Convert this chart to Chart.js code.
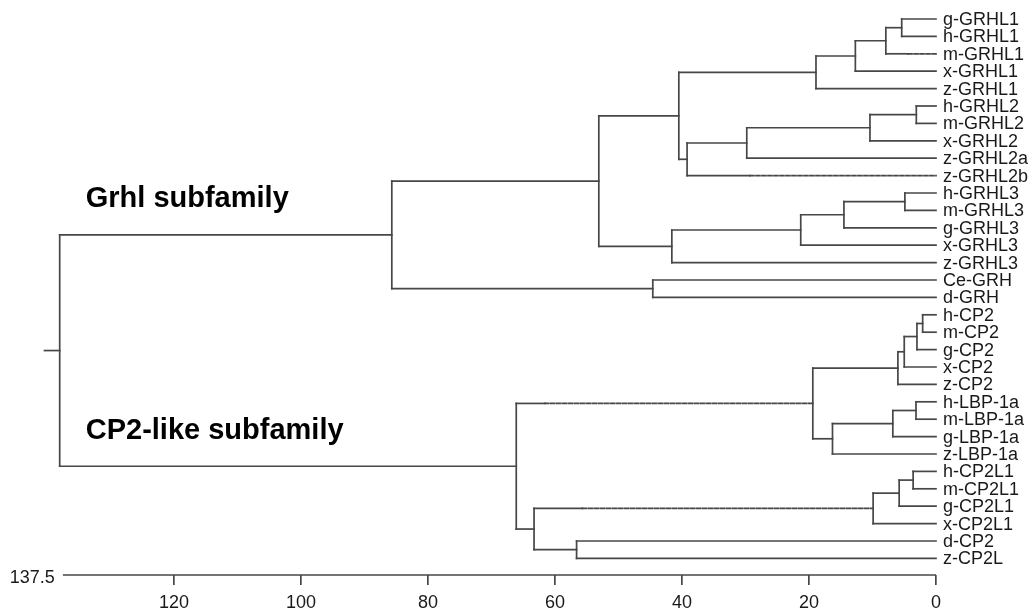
<!DOCTYPE html>
<html>
<head>
<meta charset="utf-8">
<script src="https://cdn.jsdelivr.net/npm/chart.js@4/dist/chart.umd.min.js"></script>
<style>
  body { margin: 0; background: #fff; }
  #wrap { width: 1031px; height: 616px; }
</style>
</head>
<body>
<div id="wrap"><canvas id="tree"></canvas></div>
<script>
// leaves, top to bottom
const leaves = [
  'g-GRHL1', 'h-GRHL1', 'm-GRHL1', 'x-GRHL1', 'z-GRHL1',
  'h-GRHL2', 'm-GRHL2', 'x-GRHL2', 'z-GRHL2a', 'z-GRHL2b',
  'h-GRHL3', 'm-GRHL3', 'g-GRHL3', 'x-GRHL3', 'z-GRHL3',
  'Ce-GRH', 'd-GRH',
  'h-CP2', 'm-CP2', 'g-CP2', 'x-CP2', 'z-CP2',
  'h-LBP-1a', 'm-LBP-1a', 'g-LBP-1a', 'z-LBP-1a',
  'h-CP2L1', 'm-CP2L1', 'g-CP2L1', 'x-CP2L1',
  'd-CP2', 'z-CP2L'
];

// merges: [node, child a, child b, height]
const merges = [
  ['A1', 'g-GRHL1', 'h-GRHL1', 5.4],
  ['A2', 'A1', 'm-GRHL1', 7.9],
  ['A3', 'A2', 'x-GRHL1', 12.7],
  ['A4', 'A3', 'z-GRHL1', 18.9],
  ['B1', 'h-GRHL2', 'm-GRHL2', 3.1],
  ['B2', 'B1', 'x-GRHL2', 10.4],
  ['B3', 'B2', 'z-GRHL2a', 29.8],
  ['B4', 'B3', 'z-GRHL2b', 39.2],
  ['AB', 'A4', 'B4', 40.5],
  ['C1', 'h-GRHL3', 'm-GRHL3', 4.9],
  ['C2', 'C1', 'g-GRHL3', 14.5],
  ['C3', 'C2', 'x-GRHL3', 21.3],
  ['C4', 'C3', 'z-GRHL3', 41.6],
  ['ABC', 'AB', 'C4', 53.1],
  ['D', 'Ce-GRH', 'd-GRH', 44.6],
  ['Grhl', 'ABC', 'D', 85.7],
  ['E1', 'h-CP2', 'm-CP2', 2.1],
  ['E2', 'E1', 'g-CP2', 3.0],
  ['E3', 'E2', 'x-CP2', 5.0],
  ['E4', 'E3', 'z-CP2', 6.0],
  ['F1', 'h-LBP-1a', 'm-LBP-1a', 3.15],
  ['F2', 'F1', 'g-LBP-1a', 6.8],
  ['F3', 'F2', 'z-LBP-1a', 16.3],
  ['EF', 'E4', 'F3', 19.4],
  ['G1', 'h-CP2L1', 'm-CP2L1', 3.6],
  ['G2', 'G1', 'g-CP2L1', 5.8],
  ['G3', 'G2', 'x-CP2L1', 9.9],
  ['H', 'd-CP2', 'z-CP2L', 56.6],
  ['GH', 'G3', 'H', 63.3],
  ['CP2like', 'EF', 'GH', 66.1],
  ['root', 'Grhl', 'CP2like', 138]
];

// branches drawn dashed from this height down to the child
const dashedFrom = { 'm-GRHL1': 4.4, 'z-GRHL2b': 29.3, 'EF': 61.6, 'G3': 55.7 };

const rootStub = 140.4;
const tickValues = [0, 20, 40, 60, 80, 100, 120];
const axisStart = 137.5;

const groupLabels = [
  { text: 'Grhl subfamily', x: 133.9, y: 10.79 },
  { text: 'CP2-like subfamily', x: 133.9, y: 24.14 }
];

// node positions
const pos = {};
leaves.forEach((name, i) => { pos[name] = { h: 0, y: i }; });
merges.forEach(([name, a, b, h]) => {
  pos[name] = { h: h, y: (pos[a].y + pos[b].y) / 2 };
});

const lineColor = '#474747';
const datasets = [];
function seg(x1, y1, x2, y2, dashed) {
  datasets.push({
    data: [{ x: x1, y: y1 }, { x: x2, y: y2 }],
    showLine: true,
    borderColor: lineColor,
    borderWidth: 1.7,
    borderCapStyle: 'square',
    borderDash: dashed ? [4, 2] : [],
    pointRadius: 0,
    clip: false
  });
}

merges.forEach(([name, a, b, h]) => {
  seg(h, pos[a].y, h, pos[b].y, false);
  [a, b].forEach(c => {
    const d = dashedFrom[c];
    if (d !== undefined) {
      seg(h, pos[c].y, d, pos[c].y, false);
      seg(d, pos[c].y, pos[c].h, pos[c].y, true);
    } else {
      seg(h, pos[c].y, pos[c].h, pos[c].y, false);
    }
  });
});
seg(rootStub, pos.root.y, pos.root.h, pos.root.y, false);

const textPlugin = {
  id: 'treeText',
  afterDatasetsDraw(chart) {
    const ctx = chart.ctx;
    const xs = chart.scales.x;
    const ys = chart.scales.y;
    const bottom = chart.chartArea.bottom;
    ctx.save();

    // axis line from 137.5 to 0
    ctx.strokeStyle = lineColor;
    ctx.lineWidth = 1.7;
    ctx.beginPath();
    ctx.moveTo(xs.getPixelForValue(axisStart), bottom);
    ctx.lineTo(xs.getPixelForValue(0), bottom);
    ctx.stroke();

    ctx.fillStyle = '#1a1a1a';
    ctx.font = '18px "Liberation Sans", Arial, sans-serif';
    ctx.textAlign = 'right';
    ctx.textBaseline = 'middle';
    ctx.fillText(String(axisStart), xs.getPixelForValue(axisStart) - 8, bottom + 3);

    // leaf labels
    ctx.font = '18px "Liberation Sans", Arial, sans-serif';
    ctx.textAlign = 'left';
    leaves.forEach((name, i) => {
      ctx.fillText(name, xs.getPixelForValue(0) + 7, ys.getPixelForValue(i) + 1);
    });

    // subfamily labels
    ctx.fillStyle = '#000';
    ctx.font = 'bold 29px "Liberation Sans", Arial, sans-serif';
    ctx.textBaseline = 'alphabetic';
    groupLabels.forEach(g => {
      ctx.fillText(g.text, xs.getPixelForValue(g.x), ys.getPixelForValue(g.y));
    });
    ctx.restore();
  }
};

new Chart(document.getElementById('tree'), {
  type: 'scatter',
  data: { datasets: datasets },
  options: {
    responsive: true,
    maintainAspectRatio: false,
    animation: false,
    layout: { padding: { left: 40.65, right: 95, top: 0, bottom: 0 } },
    plugins: { legend: { display: false }, tooltip: { enabled: false } },
    scales: {
      x: {
        type: 'linear',
        reverse: true,
        min: 0,
        max: 141,
        afterBuildTicks: s => { s.ticks = tickValues.map(v => ({ value: v })); },
        afterFit: s => { s.height = 41; },
        border: { display: false },
        grid: { display: true, drawOnChartArea: false, drawTicks: true, tickLength: 10, color: lineColor, lineWidth: 1.7 },
        ticks: { color: '#1a1a1a', padding: 7, maxRotation: 0, font: { family: '"Liberation Sans", Arial, sans-serif', size: 18 } }
      },
      y: {
        type: 'linear',
        reverse: true,
        min: -19 / 17.4,
        max: -19 / 17.4 + 575 / 17.4,
        display: false
      }
    }
  },
  plugins: [textPlugin]
});
</script>
</body>
</html>
